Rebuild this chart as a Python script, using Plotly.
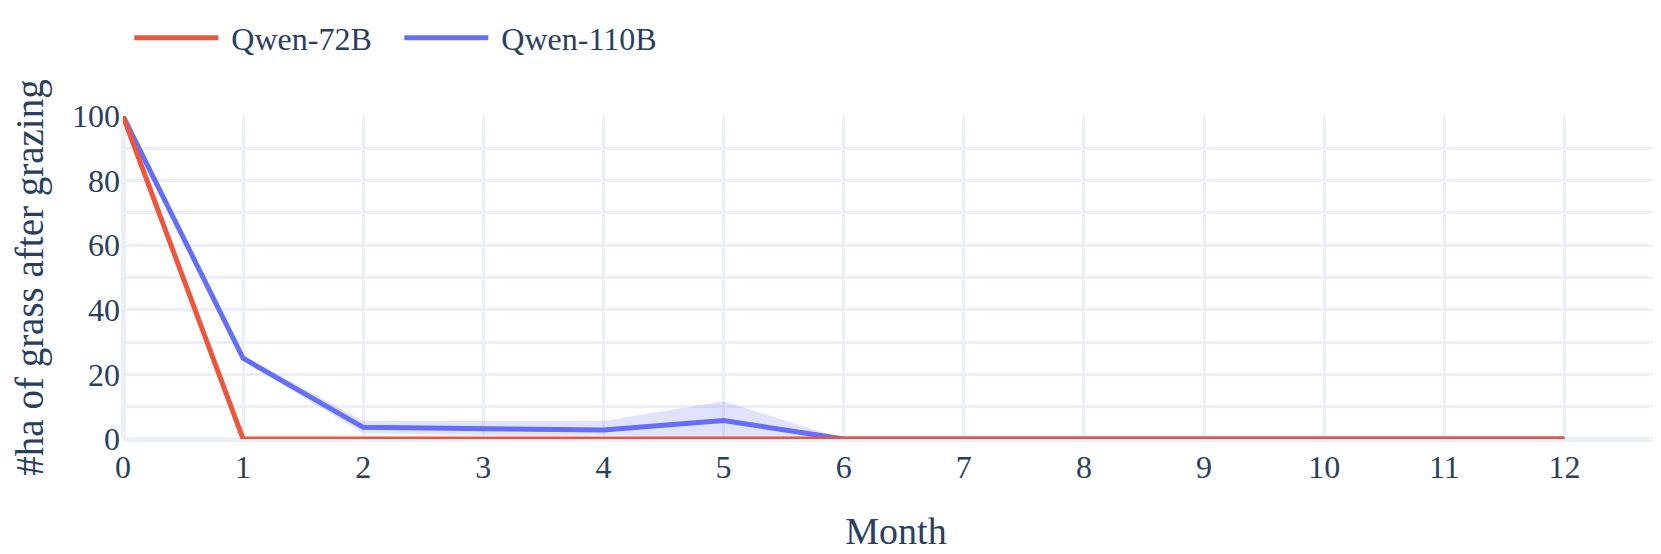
import plotly.graph_objects as go

months = list(range(13))
qwen72_mean = [100, 0, 0, 0, 0, 0, 0, 0, 0, 0, 0, 0, 0]
qwen110_mean = [100, 25, 3.6, 3.2, 2.8, 5.7, 0, 0, 0, 0, 0, 0, 0]
qwen110_upper = [100, 25.8, 5.6, 5.6, 5.6, 11.7, 0, 0, 0, 0, 0, 0, 0]
qwen110_lower = [100, 24.2, 1.8, 1.2, 1.2, 0, 0, 0, 0, 0, 0, 0, 0]

RED = "#EF553B"
BLUE = "#636EFA"
FONT = "Liberation Serif, Times New Roman, serif"
GRID = "#EBF0F8"

fig = go.Figure()
fig.add_trace(go.Scatter(x=months, y=qwen110_upper, mode="lines", line=dict(width=0),
                         showlegend=False, hoverinfo="skip"))
fig.add_trace(go.Scatter(x=months, y=qwen110_lower, mode="lines", line=dict(width=0),
                         fill="tonexty", fillcolor="rgba(99,110,250,0.2)",
                         showlegend=False, hoverinfo="skip"))
fig.add_trace(go.Scatter(x=months, y=qwen110_mean, mode="lines", name=" Qwen-110B",
                         line=dict(color=BLUE, width=5)))
fig.add_trace(go.Scatter(x=months, y=qwen72_mean, mode="lines", name=" Qwen-72B",
                         line=dict(color=RED, width=5)))

fig.update_layout(
    template="plotly_white",
    width=1661, height=554,
    margin=dict(l=115, r=0, t=108, b=123, autoexpand=False),
    font=dict(family=FONT, size=32, color="#2a3f5f"),
    legend=dict(orientation="h", x=0.0041, xanchor="left", y=1.242, yanchor="middle",
                font=dict(size=32), itemwidth=84, traceorder="reversed",
                entrywidth=171),
    xaxis=dict(title=dict(text="Month", font=dict(size=38), standoff=33),
               automargin=False, ticklabelstandoff=6,
               range=[0, 12.87], tickmode="linear", dtick=1, tick0=0,
               gridcolor=GRID, gridwidth=2.7, zerolinecolor=GRID, zerolinewidth=5,
               showline=False),
    yaxis=dict(title=dict(text="#ha of grass after grazing", font=dict(size=39), standoff=47),
               automargin=False, ticklabelstandoff=2,
               range=[0, 100], dtick=20, tick0=0,
               gridcolor=GRID, gridwidth=2.7, zerolinecolor=GRID, zerolinewidth=5,
               minor=dict(dtick=10, showgrid=True, gridcolor=GRID, gridwidth=2.7),
               showline=False),
)

fig.write_html("out.html")
